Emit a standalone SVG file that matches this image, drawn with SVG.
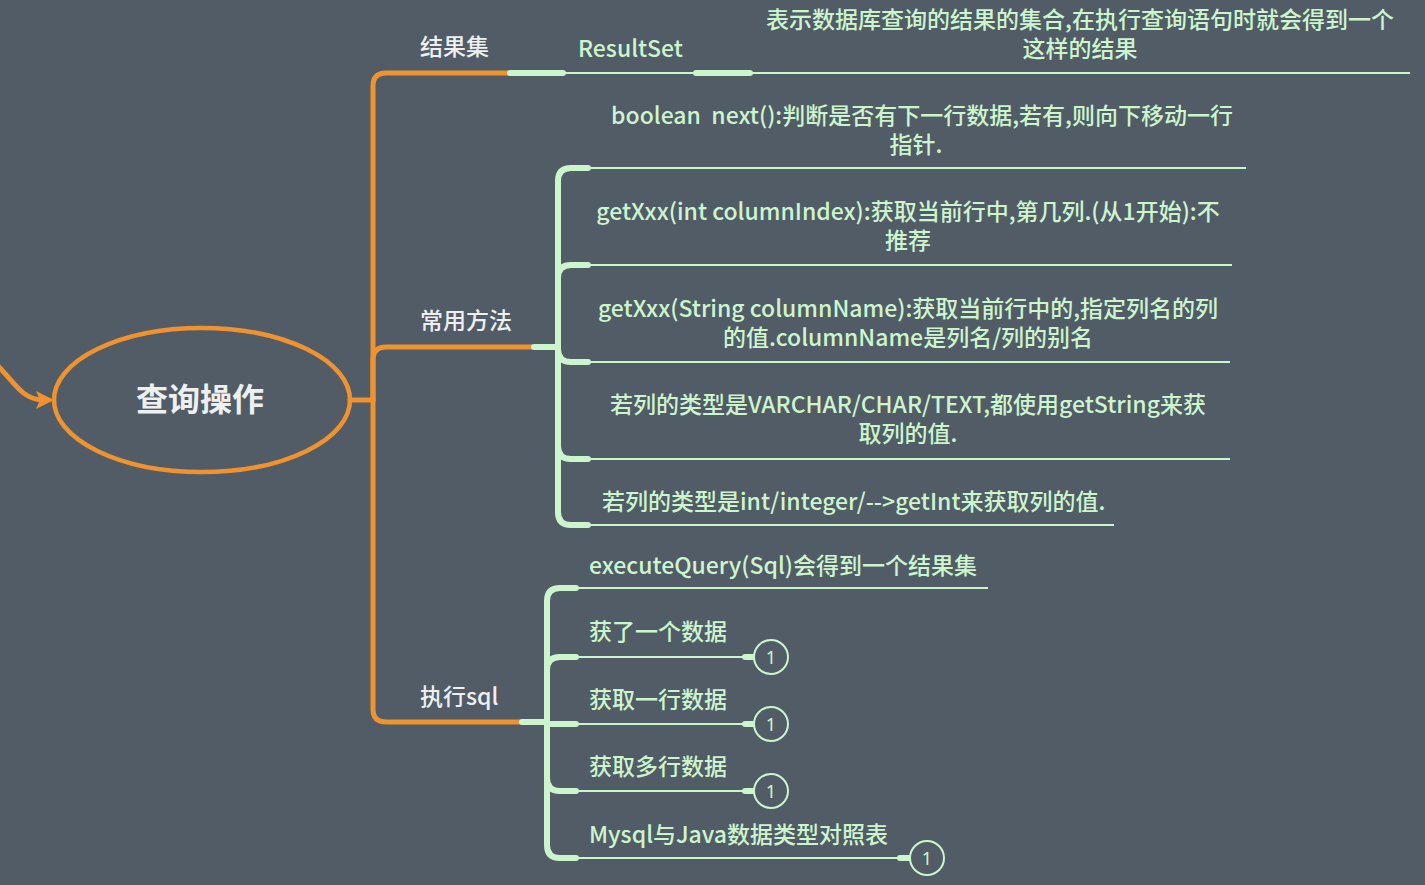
<svg xmlns="http://www.w3.org/2000/svg" width="1425" height="885" viewBox="0 0 1425 885">
<defs>
<style>
.t{font-family:"Noto Sans CJK SC","Noto Sans",sans-serif;font-size:23px;font-weight:500}
.w{fill:#eef0f0}
.g{fill:#cdf5cd}
.m{text-anchor:middle}
.o{fill:none;stroke:#ef9230;stroke-width:5;stroke-linecap:round}
.gk{fill:none;stroke:#cdf5cd;stroke-width:6;stroke-linecap:round}
.gn{fill:none;stroke:#cdf5cd;stroke-width:2}
.c{fill:#515c67;stroke:#cdf5cd;stroke-width:2}
.n{font-family:"Noto Sans","Liberation Sans",sans-serif;font-size:18px;fill:#cdf5cd;text-anchor:middle}
</style>
</defs>
<rect width="1425" height="885" fill="#515c67"/>
<g id="connectors">
<path class="o" d="M-2,366 C14,382 22,399 42,400" stroke-width="4"/>
<path d="M54,400 L36,391 L40,400 L36,409 Z" fill="#ef9230"/>
<path class="o" d="M350,400 H373"/>
<path class="o" d="M373,400 V86 Q373,73 386,73 H508"/>
<path class="o" d="M373,400 V360 Q373,347 386,347 H532"/>
<path class="o" d="M373,400 V709 Q373,722 386,722 H520"/>
<path class="gk" d="M510,73 H563"/>
<path class="gn" d="M563,73 H1410"/>
<path class="gk" d="M696,73 H750"/>
<path class="gk" d="M534,347 H558"/>
<path class="gk" d="M558,347 V181 Q558,168 571,168 H588"/>
<path class="gk" d="M558,347 V278 Q558,265 571,265 H588"/>
<path class="gk" d="M558,347 V349 Q558,362 571,362 H588"/>
<path class="gk" d="M558,347 V446 Q558,459 571,459 H588"/>
<path class="gk" d="M558,347 V512 Q558,525 571,525 H588"/>
<path class="gn" d="M588,168 H1246 M588,265 H1232 M588,362 H1230 M588,459 H1230 M588,525 H1114"/>
<path class="gk" d="M522,722 H547"/>
<path class="gk" d="M547,722 V601 Q547,588 560,588 H576"/>
<path class="gk" d="M547,722 V670 Q547,657 560,657 H576"/>
<path class="gk" d="M547,722 V724 H576"/>
<path class="gk" d="M547,722 V778 Q547,791 560,791 H576"/>
<path class="gk" d="M547,722 V845 Q547,858 560,858 H576"/>
<path class="gn" d="M576,588 H988 M576,657 H745 M576,724 H745 M576,791 H745 M576,858 H900"/>
<path class="gk" d="M745,657 H755 M745,724 H755 M745,791 H755 M900,858 H911" stroke-linecap="butt"/>
</g>
<g id="root">
<ellipse cx="202" cy="400" rx="148" ry="72" fill="none" stroke="#ef9230" stroke-width="4.5"/>
<text class="t w m" x="200" y="411" style="font-size:32px;font-weight:700">查询操作</text>
</g>
<g id="n-resultset-label"><text class="t w" x="420" y="55">结果集</text></g>
<g id="n-resultset"><text class="t g" x="578" y="57">ResultSet</text></g>
<g id="n-resultset-desc">
<text class="t g m" x="1080" y="28">表示数据库查询的结果的集合,在执行查询语句时就会得到一个</text>
<text class="t g m" x="1080" y="57">这样的结果</text>
</g>
<g id="n-methods"><text class="t w" x="420" y="329">常用方法</text></g>
<g id="n-next">
<text class="t g m" x="922" y="124" xml:space="preserve">boolean  next():判断是否有下一行数据,若有,则向下移动一行</text>
<text class="t g m" x="916" y="153">指针.</text>
</g>
<g id="n-getindex">
<text class="t g m" x="908" y="220">getXxx(int columnIndex):获取当前行中,第几列.(从1开始):不</text>
<text class="t g m" x="908" y="249">推荐</text>
</g>
<g id="n-getname">
<text class="t g m" x="908" y="317">getXxx(String columnName):获取当前行中的,指定列名的列</text>
<text class="t g m" x="908" y="346">的值.columnName是列名/列的别名</text>
</g>
<g id="n-varchar">
<text class="t g m" x="908" y="413">若列的类型是VARCHAR/CHAR/TEXT,都使用getString来获</text>
<text class="t g m" x="908" y="442">取列的值.</text>
</g>
<g id="n-int"><text class="t g" x="602" y="510">若列的类型是int/integer/--&gt;getInt来获取列的值.</text></g>
<g id="n-exec"><text class="t w" x="420" y="705">执行sql</text></g>
<g id="n-query"><text class="t g" x="589" y="574">executeQuery(Sql)会得到一个结果集</text></g>
<g id="n-one">
<text class="t g" x="589" y="640">获了一个数据</text>
<circle class="c" cx="771" cy="657" r="17"/><text class="n" x="771" y="664">1</text>
</g>
<g id="n-row">
<text class="t g" x="589" y="708">获取一行数据</text>
<circle class="c" cx="771" cy="724" r="17"/><text class="n" x="771" y="731">1</text>
</g>
<g id="n-rows">
<text class="t g" x="589" y="775">获取多行数据</text>
<circle class="c" cx="771" cy="791" r="17"/><text class="n" x="771" y="798">1</text>
</g>
<g id="n-types">
<text class="t g" x="589" y="843">Mysql与Java数据类型对照表</text>
<circle class="c" cx="927" cy="858" r="17"/><text class="n" x="927" y="865">1</text>
</g>
</svg>
